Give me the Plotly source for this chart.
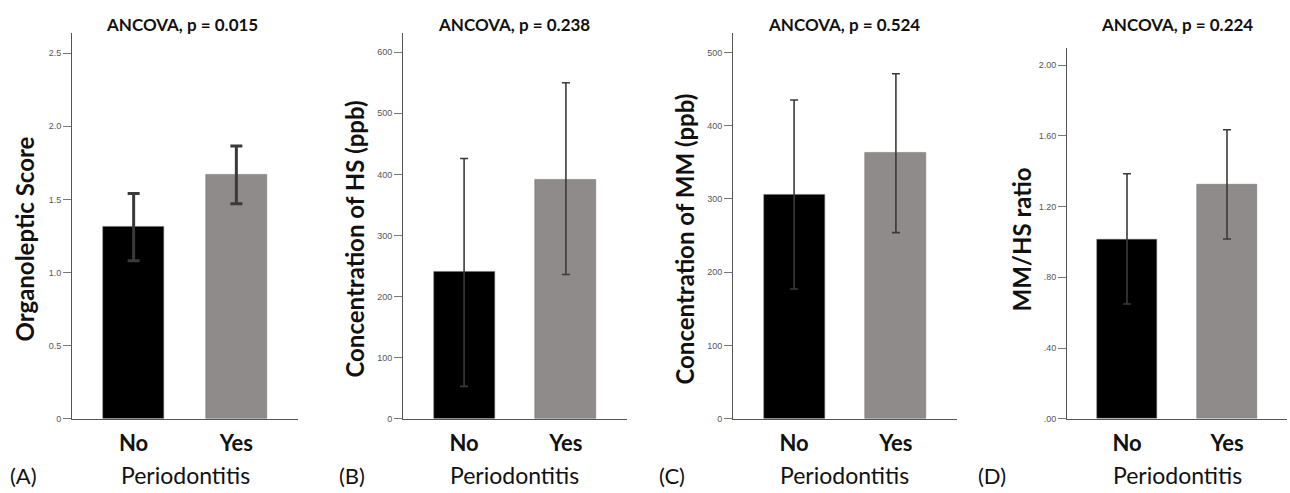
import plotly.graph_objects as go

categories = ["No", "Yes"]
panel_letters = ["(A)", "(B)", "(C)", "(D)"]
titles = ["ANCOVA, p = 0.015", "ANCOVA, p = 0.238", "ANCOVA, p = 0.524", "ANCOVA, p = 0.224"]
ytitles = ["Organoleptic Score", "Concentration of HS (ppb)", "Concentration of MM (ppb)", "MM/HS ratio"]

organoleptic_mean = [1.31, 1.67]
organoleptic_hi = [1.54, 1.865]
organoleptic_lo = [1.08, 1.47]

hs_mean = [240, 392]
hs_hi = [426, 550]
hs_lo = [53, 236]

mm_mean = [306, 363]
mm_hi = [435, 471]
mm_lo = [177, 254]

ratio_mean = [1.014, 1.326]
ratio_hi = [1.386, 1.635]
ratio_lo = [0.649, 1.017]

tick_vals = [
    [0, 0.5, 1.0, 1.5, 2.0, 2.5],
    [0, 100, 200, 300, 400, 500, 600],
    [0, 100, 200, 300, 400, 500],
    [0, 0.4, 0.8, 1.2, 1.6, 2.0],
]
tick_text = [
    ["0", "0.5", "1.0", "1.5", "2.0", "2.5"],
    ["0", "100", "200", "300", "400", "500", "600"],
    ["0", "100", "200", "300", "400", "500"],
    [".00", ".40", ".80", "1.20", "1.60", "2.00"],
]
y_ranges = [[0, 2.64], [0, 632], [0, 527], [0, 2.10]]

means = [organoleptic_mean, hs_mean, mm_mean, ratio_mean]
his = [organoleptic_hi, hs_hi, mm_hi, ratio_hi]
los = [organoleptic_lo, hs_lo, mm_lo, ratio_lo]

W, H = 1290, 493
# pixel layout of each panel: axis left, axis right, axis top
x_px = [(72, 298), (403, 627), (733, 957), (1067, 1287)]
top_px = [33, 33, 33, 48]
zero_px = 423
title_x_px = [182, 514, 844, 1177]
ytitle_x_px = [25, 355, 685, 1022]
letter_x_px = [23, 352, 672, 992]
period_x_px = [185, 514, 844, 1177]
err_width = [3, 1.6, 1.6, 1.6]
err_cap = [6, 4, 4, 4]

bar_colors = ["#000000", "#8f8b8b"]
FONT = "Lato, Liberation Sans, sans-serif"

fig = go.Figure()
annotations = []
for i in range(4):
    sfx = "" if i == 0 else str(i + 1)
    xs = [0, 1]
    m = means[i]
    plus = [h - v for h, v in zip(his[i], m)]
    minus = [v - l for l, v in zip(los[i], m)]
    fig.add_trace(go.Bar(
        x=xs, y=m, width=0.6,
        marker=dict(color=bar_colors, line=dict(color="#6a6a6a", width=0.5)),
        error_y=dict(type="data", symmetric=False, array=plus, arrayminus=minus,
                     color="#3a3a3a", thickness=err_width[i], width=err_cap[i]),
        xaxis="x" + sfx, yaxis="y" + sfx, showlegend=False,
    ))
    x0, x1 = x_px[i]
    dom_x = [x0 / W, x1 / W]
    dom_y = [1 - zero_px / H, 1 - top_px[i] / H]
    fig.layout["xaxis" + sfx] = dict(
        domain=dom_x, anchor="y" + sfx, range=[-0.6, 1.6],
        tickvals=[0, 1], ticktext=["<b>%s</b>" % c for c in categories],
        ticks="", showline=True, linecolor="#555555", linewidth=1,
        tickfont=dict(family=FONT, size=22, color="#111111"),
        ticklabelstandoff=5, showgrid=False, zeroline=False, fixedrange=True,
    )
    fig.layout["yaxis" + sfx] = dict(
        domain=dom_y, anchor="x" + sfx, range=y_ranges[i],
        tickvals=tick_vals[i], ticktext=tick_text[i],
        ticks="outside", ticklen=8, tickcolor="#777777", tickwidth=1,
        showline=True, linecolor="#555555", linewidth=1,
        tickfont=dict(family="Liberation Sans, Arial, sans-serif", size=9, color="#555555"),
        showgrid=False, zeroline=False, fixedrange=True,
    )
    annotations.append(dict(text="<b>%s</b>" % titles[i], x=title_x_px[i] / W, y=1 - 25 / H,
                            xref="paper", yref="paper", showarrow=False, xanchor="center", yanchor="middle",
                            font=dict(family=FONT, size=17, color="#111111")))
    annotations.append(dict(text="<b>%s</b>" % ytitles[i], x=ytitle_x_px[i] / W, y=1 - 242 / H,
                            xref="paper", yref="paper", showarrow=False, textangle=-90,
                            xanchor="center", yanchor="middle",
                            font=dict(family=FONT, size=24, color="#111111")))
    annotations.append(dict(text=panel_letters[i], x=letter_x_px[i] / W, y=1 - 480 / H,
                            xref="paper", yref="paper", showarrow=False, xanchor="center", yanchor="middle",
                            font=dict(family=FONT, size=22, color="#111111")))
    annotations.append(dict(text="Periodontitis", x=period_x_px[i] / W, y=1 - 480 / H,
                            xref="paper", yref="paper", showarrow=False, xanchor="center", yanchor="middle",
                            font=dict(family=FONT, size=23, color="#111111")))

fig.update_layout(
    width=W, height=H, margin=dict(l=0, r=0, t=0, b=0),
    paper_bgcolor="white", plot_bgcolor="white",
    annotations=annotations, bargap=0,
)
fig.write_html("out.html", config={"displayModeBar": False},
               post_script="document.body.style.margin='0';document.body.style.overflow='hidden';")
